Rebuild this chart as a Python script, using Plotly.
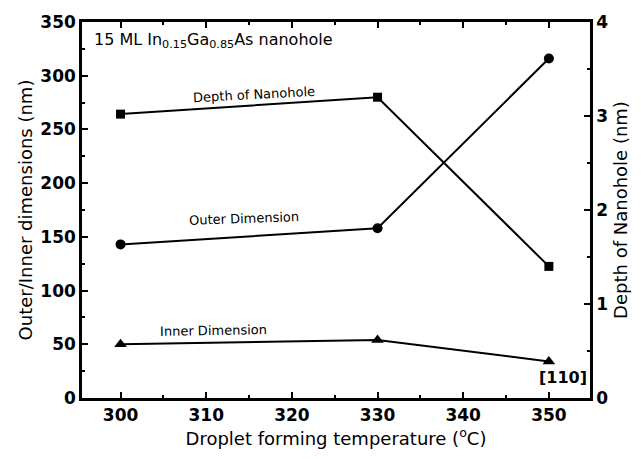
import plotly.graph_objects as go

temps = [300, 330, 350]
outer_dim = [143, 158, 316]
inner_dim = [50, 54, 34]
depth = [3.02, 3.20, 1.40]

FONT = "DejaVu Sans"

fig = go.Figure()
fig.add_trace(go.Scatter(x=temps, y=outer_dim, mode="lines+markers",
                         line=dict(color="black", width=2),
                         marker=dict(symbol="circle", size=10, color="black"),
                         showlegend=False))
fig.add_trace(go.Scatter(x=temps, y=inner_dim, mode="lines+markers",
                         line=dict(color="black", width=2),
                         marker=dict(symbol="triangle-up", size=11, color="black"),
                         showlegend=False))
fig.add_trace(go.Scatter(x=temps, y=depth, mode="lines+markers", yaxis="y2",
                         line=dict(color="black", width=2),
                         marker=dict(symbol="square", size=9, color="black"),
                         showlegend=False))

axis_common = dict(showline=True, linecolor="black", linewidth=2.5,
                   ticks="inside", ticklen=6, tickwidth=2, tickcolor="black",
                   showgrid=False, zeroline=False,
                   tickfont=dict(family=FONT, size=17, color="black", weight="bold"))

title_font = dict(family=FONT, size=18, color="black")

fig.update_layout(
    width=641, height=459,
    margin=dict(l=82, r=49, t=20, b=61),
    paper_bgcolor="white", plot_bgcolor="white",
    xaxis=dict(range=[295.5, 354.8], dtick=10, tick0=300, mirror="ticks",
               minor=dict(ticks="inside", ticklen=3, dtick=5, tickwidth=2, tickcolor="black"),
               title=dict(text="Droplet forming temperature (<sup>o</sup>C)",
                          font=title_font, standoff=4),
               **axis_common),
    yaxis=dict(range=[0, 350], dtick=50,
               minor=dict(ticks="inside", ticklen=3, dtick=25, tickwidth=2, tickcolor="black"),
               title=dict(text="Outer/Inner dimensions (nm)", font=title_font, standoff=4),
               **axis_common),
    yaxis2=dict(range=[0, 4], dtick=1, overlaying="y", side="right",
                minor=dict(ticks="inside", ticklen=3, dtick=0.5, tickwidth=2, tickcolor="black"),
                title=dict(text="Depth of Nanohole (nm)", font=title_font, standoff=8),
                **axis_common),
)

ann_font = dict(family=FONT, size=13, color="black")
fig.add_annotation(x=0.02, y=0.985, xref="paper", yref="paper", xanchor="left", yanchor="top",
                   text="15 ML In<sub>0.15</sub>Ga<sub>0.85</sub>As nanohole", showarrow=False,
                   font=dict(family=FONT, size=16, color="black"))
fig.add_annotation(x=315.6, y=3.23, yref="y2", text="Depth of Nanohole", showarrow=False,
                   textangle=-3, font=ann_font)
fig.add_annotation(x=314.4, y=167, text="Outer Dimension", showarrow=False,
                   textangle=-2, font=ann_font)
fig.add_annotation(x=310.9, y=63, text="Inner Dimension", showarrow=False,
                   textangle=-1, font=ann_font)
fig.add_annotation(x=351.6, y=19, text="[110]", showarrow=False,
                   font=dict(family=FONT, size=16, color="black", weight="bold"))

fig.write_html("out.html")
